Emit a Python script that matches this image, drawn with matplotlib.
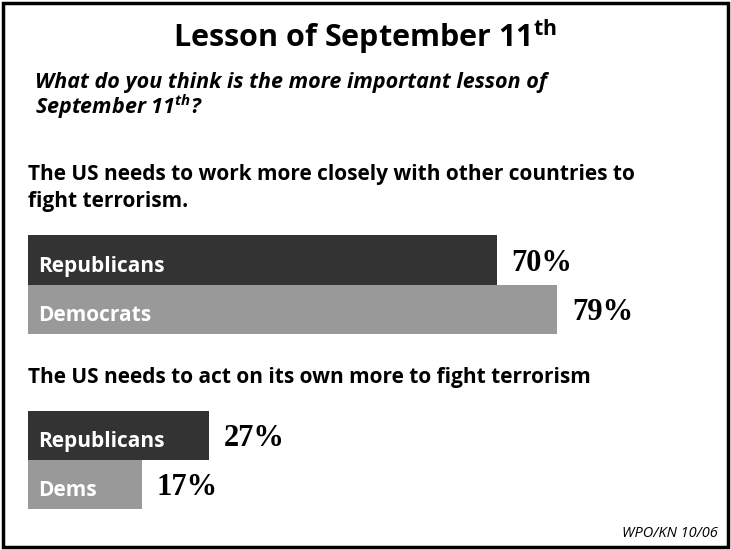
import matplotlib.pyplot as plt
from matplotlib.patches import Rectangle

W, H = 731, 550

title = "Lesson of September 11$^{\\mathregular{th}}$"
question = ["What do you think is the more important lesson of",
            "September 11$^{\\mathregular{th}}$?"]
group_titles = [["The US needs to work more closely with other countries to",
                 "fight terrorism."],
                ["The US needs to act on its own more to fight terrorism"]]
group_labels = [["Republicans", "Democrats"], ["Republicans", "Dems"]]
group_values = [[70, 79], [27, 17]]
bar_colors = ["#333333", "#999999"]
source = "WPO/KN 10/06"

plt.rcParams['font.family'] = ["Open Sans", "DejaVu Sans"]
plt.rcParams['mathtext.fontset'] = 'custom'


def fx(x):
    return x / W


def fy(y):
    return 1 - y / H


fig = plt.figure(figsize=(W / 100, H / 100), dpi=100)
fig.patch.set_facecolor('white')
fig.patches.append(Rectangle((fx(3), fy(547)), fx(725), 544 / H, transform=fig.transFigure,
                             fill=False, edgecolor='black', linewidth=2.5))

# header (baselines in pixels from top)
fig.text(0.5, fy(47), title, ha='center', va='baseline', fontsize=22, fontweight='bold')
for line, y in zip(question, [88, 114]):
    fig.text(fx(35), fy(y), line, ha='left', va='baseline', fontsize=15.5,
             fontweight='bold', style='italic')

title_y = [[180, 207], [383]]
for lines, ys in zip(group_titles, title_y):
    for line, y in zip(lines, ys):
        fig.text(fx(28), fy(y), line, ha='left', va='baseline', fontsize=15, fontweight='bold')

# bar areas in pixels (top, bottom)
areas = [(235, 334), (411, 509)]
px_per_pct = 6.7
for (top, bot), labels, vals in zip(areas, group_labels, group_values):
    ax = fig.add_axes([fx(28), fy(bot), fx(100 * px_per_pct), (bot - top) / H])
    ax.barh(range(len(vals)), vals, height=1.0, color=bar_colors, left=0)
    ax.set_xlim(0, 100)
    ax.set_ylim(len(vals) - 0.5, -0.5)
    ax.axis('off')
    for i, (lab, v) in enumerate(zip(labels, vals)):
        ax.annotate(lab, (0, i), xytext=(7.5, -8.6), textcoords='offset points',
                    ha='left', va='baseline', color='white', fontsize=15, fontweight='bold')
        ax.annotate(f"{v}%", (v, i), xytext=(10.5, -7.9), textcoords='offset points',
                    ha='left', va='baseline', color='black', fontsize=22, fontweight='bold',
                    family='Liberation Serif')

fig.text(fx(718), fy(537), source, ha='right', va='baseline', fontsize=10.5, style='italic')

fig.savefig('out.png', dpi=100)
